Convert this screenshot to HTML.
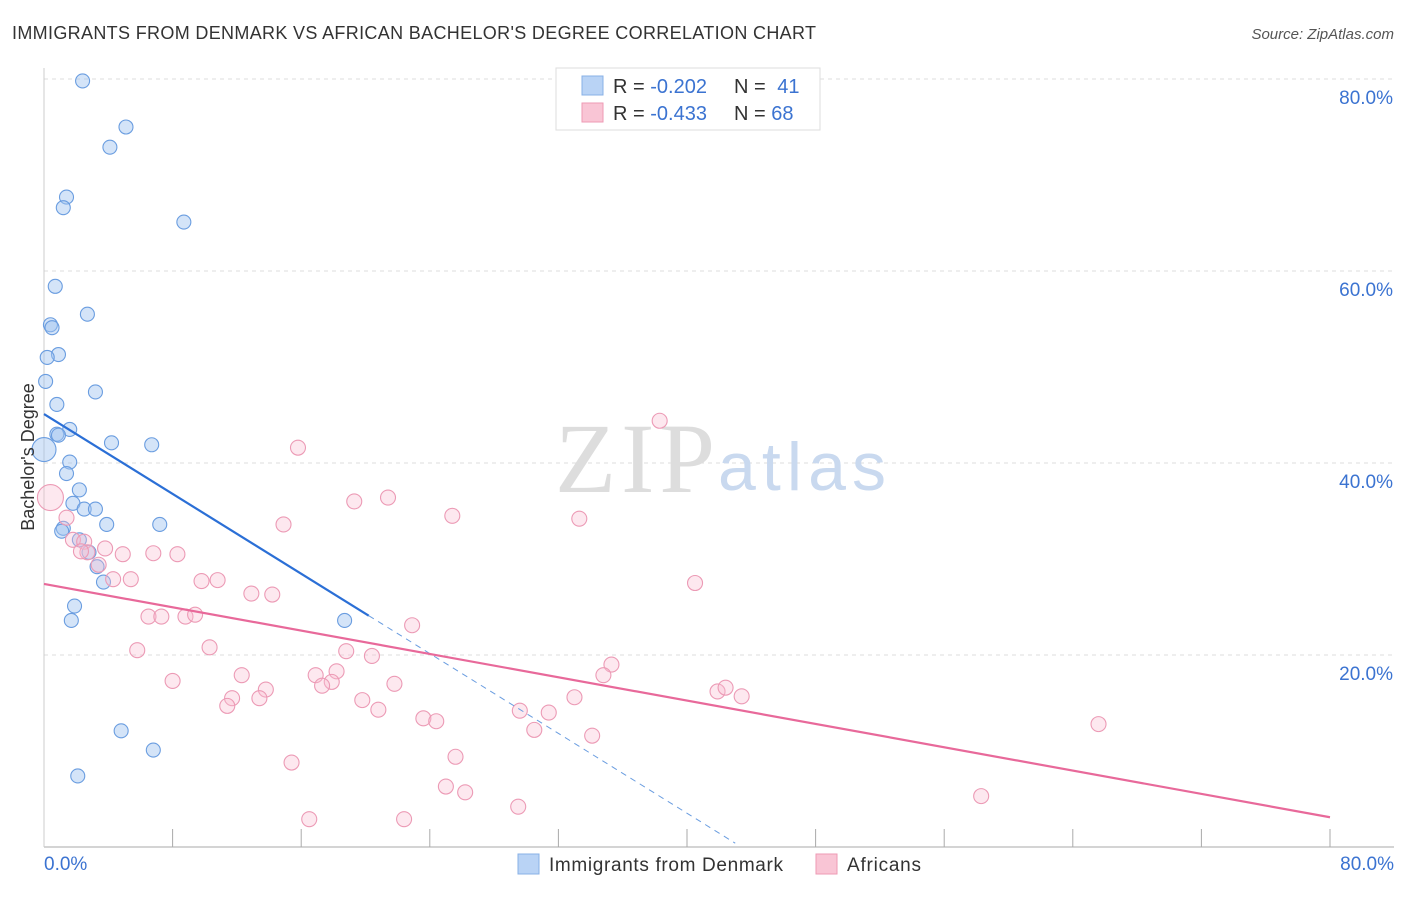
<!DOCTYPE html>
<html><head><meta charset="utf-8"><style>
body{margin:0;background:#fff;font-family:"Liberation Sans",sans-serif;}
</style></head><body>
<svg id="chart" width="1406" height="892" xmlns="http://www.w3.org/2000/svg" font-family="Liberation Sans">
<text x="12" y="39" font-size="18" fill="#333" textLength="804">IMMIGRANTS FROM DENMARK VS AFRICAN BACHELOR'S DEGREE CORRELATION CHART</text>
<text x="1394" y="39" font-size="15" fill="#555" font-style="italic" text-anchor="end">Source: ZipAtlas.com</text>
<g id="grid"></g>
<text x="555" y="492" font-size="100" fill="#ddd" font-family="Liberation Serif" textLength="160">ZIP</text>
<text x="718" y="490" font-size="68" fill="#c9d9ef" textLength="168">atlas</text>
<g id="marks"></g>
<text transform="translate(34,457) rotate(-90)" font-size="18" fill="#333" text-anchor="middle">Bachelor's Degree</text>
<g>
<rect x="556" y="68" width="264" height="62" fill="#fff" stroke="#ddd"/>
<rect x="582" y="76" width="21" height="19" fill="#b9d3f5" stroke="#88b0e6"/>
<rect x="582" y="103" width="21" height="19" fill="#f9c5d5" stroke="#ee9ab4"/>
<text x="613" y="93" font-size="20" fill="#333">R = <tspan fill="#3b73d1">-0.202</tspan></text>
<text x="734" y="93" font-size="20" fill="#333">N = <tspan fill="#3b73d1" dx="6">41</tspan></text>
<text x="613" y="120" font-size="20" fill="#333">R = <tspan fill="#3b73d1">-0.433</tspan></text>
<text x="734" y="120" font-size="20" fill="#333">N = <tspan fill="#3b73d1">68</tspan></text>
</g>
<g>
<rect x="518" y="854" width="21" height="20" fill="#b9d3f5" stroke="#88b0e6"/>
<text x="549" y="871" font-size="19" fill="#333" textLength="234">Immigrants from Denmark</text>
<rect x="816" y="854" width="21" height="20" fill="#f9c5d5" stroke="#ee9ab4"/>
<text x="847" y="871" font-size="19" fill="#333" textLength="74">Africans</text>
</g>
</svg>
<script>
const xTicks=[0,8,16,24,32,40,48,56,64,72,80];
const yTicks=[20,40,60,80];
const blueX=[2.4,5.1,4.1,1.4,1.2,8.7,0.7,2.7,0.4,0.5,0.9,0.2,0.1,3.2,0.8,0.8,1.6,0.9,4.2,6.7,0.0,1.6,1.4,2.2,1.8,2.5,3.2,3.9,7.2,1.2,1.1,2.2,2.8,3.3,3.7,1.9,1.7,18.7,4.8,6.8,2.1];
const blueY=[79.8,75.0,72.9,67.7,66.6,65.1,58.4,55.5,54.4,54.1,51.3,51.0,48.5,47.4,46.1,43.0,43.5,42.9,42.1,41.9,41.4,40.1,38.9,37.2,35.8,35.2,35.2,33.6,33.6,33.2,32.9,32.0,30.7,29.2,27.6,25.1,23.6,23.6,12.1,10.1,7.4];
const blueR=[7,7,7,7,7,7,7,7,7,7,7,7,7,7,7,7,7,7,7,7,12,7,7,7,7,7,7,7,7,7,7,7,7,7,7,7,7,7,7,7,7];
const pinkX=[38.3,15.8,21.4,19.3,25.4,33.3,14.9,0.4,1.4,1.8,2.5,3.8,2.7,2.3,4.9,6.8,8.3,3.4,4.3,5.4,9.8,10.8,40.5,12.9,14.2,6.5,7.3,8.8,9.4,22.9,10.3,5.8,18.8,20.4,35.3,12.3,34.8,18.2,16.9,17.9,17.3,8.0,21.8,13.8,41.9,42.4,43.4,11.7,13.4,19.8,11.4,33.0,20.8,23.6,24.4,29.6,31.4,30.5,65.6,34.1,25.6,15.4,25.0,26.2,29.5,58.3,16.5,22.4];
const pinkY=[44.4,41.6,36.4,36.0,34.5,34.2,33.6,36.4,34.3,32.0,31.8,31.1,30.7,30.8,30.5,30.6,30.5,29.4,27.9,27.9,27.7,27.8,27.5,26.4,26.3,24.0,24.0,24.0,24.2,23.1,20.8,20.5,20.4,19.9,19.0,17.9,17.9,18.3,17.9,17.2,16.8,17.3,17.0,16.4,16.2,16.6,15.7,15.5,15.5,15.3,14.7,15.6,14.3,13.4,13.1,14.2,14.0,12.2,12.8,11.6,9.4,8.8,6.3,5.7,4.2,5.3,2.9,2.9];
const blueTrend=[0,45.1,20.2,24.1];
const blueDash=[20.2,24.1,43.0,0.4];
const pinkTrend=[0,27.4,80,3.1];
const svg=document.getElementById('chart');
const NS='http://www.w3.org/2000/svg';
const xs=v=>44+v*1286/80;
const ys=v=>847-v*9.6;
function mk(tag,attrs,parent){const e=document.createElementNS(NS,tag);for(const k in attrs)e.setAttribute(k,attrs[k]);(parent||svg).appendChild(e);return e;}
const grid=document.getElementById('grid');
yTicks.forEach(t=>{
 const l=mk('line',{x1:44,x2:1394,y1:ys(t),y2:ys(t),stroke:'#ddd','stroke-dasharray':'4,4'},grid);
 
 
 const tx=mk('text',{x:1393,y:ys(t)+25,'font-size':19,fill:'#3b73d1','text-anchor':'end'},grid);
 tx.textContent=t.toFixed(1)+'%';
 
 
});
const ax=mk('line',{x1:44,x2:1394,y1:847,y2:847,stroke:'#aaa'},grid);


const ay=mk('line',{x1:44,x2:44,y1:68,y2:847,stroke:'#ccc'},grid);


xTicks.forEach((t,i)=>{
 if(i>0){const tk=mk('line',{x1:xs(t),x2:xs(t),y1:829,y2:847,stroke:'#aaa'},grid);
 
 }
});
const xl0=mk('text',{x:44,y:870,'font-size':19,fill:'#3b73d1'},grid);xl0.textContent=xTicks[0].toFixed(1)+'%';


const xl1=mk('text',{x:1394,y:870,'font-size':19,fill:'#3b73d1','text-anchor':'end'},grid);xl1.textContent=xTicks[xTicks.length-1].toFixed(1)+'%';


const marks=document.getElementById('marks');
blueX.forEach((v,i)=>{
 const c=mk('circle',{cx:xs(v),cy:ys(blueY[i]),r:blueR[i],fill:'rgba(160,195,240,0.45)',stroke:'#6a9de0','stroke-width':1.1},marks);
 
 
});
pinkX.forEach((v,i)=>{
 const r=i===7?13:7.5;
 const c=mk('circle',{cx:xs(v),cy:ys(pinkY[i]),r:r,fill:'rgba(248,190,210,0.35)',stroke:'#ec9ab5','stroke-width':1.1},marks);
 
 
});
const bt=mk('line',{x1:xs(blueTrend[0]),y1:ys(blueTrend[1]),x2:xs(blueTrend[2]),y2:ys(blueTrend[3]),stroke:'#2b6fd6','stroke-width':2.2},marks);


const bd=mk('line',{x1:xs(blueDash[0]),y1:ys(blueDash[1]),x2:xs(blueDash[2]),y2:ys(blueDash[3]),stroke:'#6a9de0','stroke-width':1,'stroke-dasharray':'6,5'},marks);


const pt=mk('line',{x1:xs(pinkTrend[0]),y1:ys(pinkTrend[1]),x2:xs(pinkTrend[2]),y2:ys(pinkTrend[3]),stroke:'#e8699a','stroke-width':2.2},marks);


</script>
</body></html>
